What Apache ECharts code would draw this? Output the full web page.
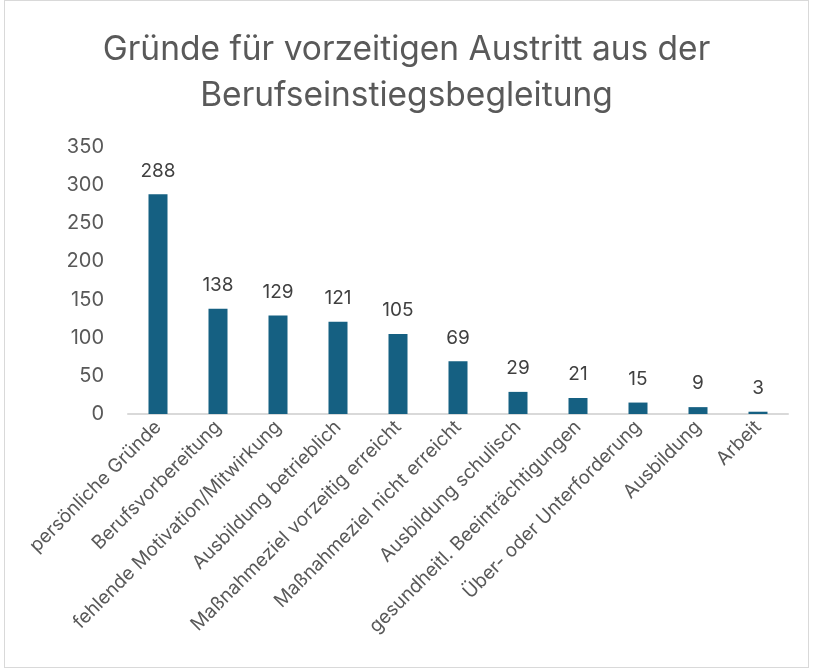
<!DOCTYPE html>
<html>
<head>
<meta charset="utf-8">
<script src="https://cdn.jsdelivr.net/npm/echarts@6/dist/echarts.min.js"></script>
<style>
  html, body { margin: 0; padding: 0; background: #fff; }
  #frame { position: absolute; left: 4px; top: 0; width: 805px; height: 668px; border: 1px solid #d9d9d9; box-sizing: border-box; }
  #chart { width: 813px; height: 672px; }
</style>
</head>
<body>
<div id="frame"></div>
<div id="chart"></div>
<script>
const categories = [
  "persönliche Gründe",
  "Berufsvorbereitung",
  "fehlende Motivation/Mitwirkung",
  "Ausbildung betrieblich",
  "Maßnahmeziel vorzeitig erreicht",
  "Maßnahmeziel nicht erreicht",
  "Ausbildung schulisch",
  "gesundheitl. Beeinträchtigungen",
  "Über- oder Unterforderung",
  "Ausbildung",
  "Arbeit"
];
const values = [288, 138, 129, 121, 105, 69, 29, 21, 15, 9, 3];

const chart = echarts.init(document.getElementById("chart"));

const option = {
  animation: false,
  textStyle: { fontFamily: "Inter, 'Open Sans', sans-serif" },
  title: {
    text: "Gründe für vorzeitigen Austritt aus der\nBerufseinstiegsbegleitung",
    left: "center",
    top: 22,
    textStyle: {
      fontSize: 33.5,
      fontWeight: "normal",
      color: "#595959",
      lineHeight: 46
    }
  },
  grid: {
    left: 128,
    right: 25,
    top: 147,
    bottom: 258
  },
  xAxis: {
    type: "category",
    data: categories,
    axisLine: { lineStyle: { color: "#d9d9d9", width: 2 } },
    axisTick: { show: false },
    axisLabel: {
      rotate: 45,
      interval: 0,
      margin: 10,
      fontSize: 19,
      color: "#595959"
    }
  },
  yAxis: {
    type: "value",
    min: 0,
    max: 350,
    interval: 50,
    splitLine: { show: false },
    axisLine: { show: false },
    axisTick: { show: false },
    axisLabel: {
      margin: 24,
      fontSize: 20,
      color: "#595959"
    }
  },
  series: [
    {
      type: "bar",
      data: values,
      barWidth: 19,
      itemStyle: { color: "#156082" },
      label: {
        show: true,
        position: "top",
        distance: 14,
        fontSize: 19,
        color: "#404040"
      }
    }
  ]
};

chart.setOption(option);
</script>
</body>
</html>
